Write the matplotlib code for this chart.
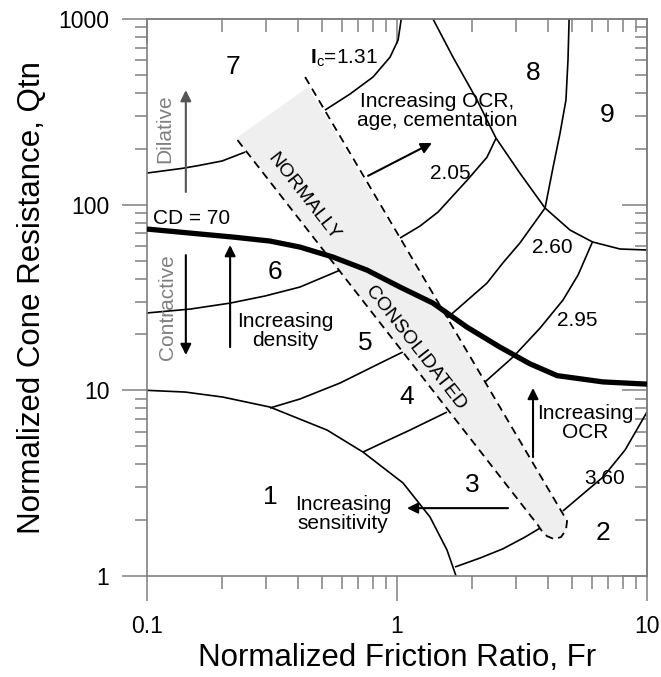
import matplotlib.pyplot as plt
from matplotlib.ticker import FuncFormatter, NullFormatter

plt.rcParams['font.family'] = ['Liberation Sans', 'DejaVu Sans']
plt.rcParams['mathtext.fontset'] = 'custom'
plt.rcParams['mathtext.rm'] = 'Liberation Sans'
plt.rcParams['mathtext.bf'] = 'Liberation Sans:bold'

# soil behaviour type boundaries, (Fr %, Qtn) pairs
ic131_lo_fr = [0.1, 0.139, 0.163, 0.2, 0.247]
ic131_lo_qt = [148, 157, 163, 172, 192]
ic131_hi_fr = [0.515, 0.648, 0.802, 0.938, 1.01, 1.04]
ic131_hi_qt = [323, 394, 487, 623, 770, 1000]

ic205_lo_fr = [0.1, 0.149, 0.215, 0.296, 0.409, 0.592]
ic205_lo_qt = [26.1, 27.4, 29.5, 32.2, 36.0, 44.4]
ic205_hi_fr = [1.028, 1.236, 1.459, 1.923, 2.29, 2.49]
ic205_hi_qt = [66.1, 76.7, 91.2, 137, 180, 228]

ic260_lo_fr = [0.310, 0.409, 0.592, 0.855, 1.057]
ic260_lo_qt = [8.03, 8.98, 10.95, 14.0, 16.1]
ic260_hi_fr = [1.585, 2.29, 2.65, 3.10, 3.91, 4.21, 4.49, 4.74, 4.83, 4.88]
ic260_hi_qt = [24.5, 37.8, 48.5, 62.1, 95.9, 159, 243, 366, 601, 1000]

ic295_lo_fr = [0.731, 0.855, 1.127, 1.585]
ic295_lo_qt = [4.65, 5.14, 6.11, 7.64]
ic295_hi_fr = [2.25, 2.91, 3.73, 4.61, 5.30, 6.05]
ic295_hi_qt = [11.1, 15.1, 21.6, 30.6, 41.8, 63.0]

ic360_lo_fr = [1.706, 2.15, 2.65, 3.25, 3.73]
ic360_lo_qt = [1.118, 1.25, 1.40, 1.62, 1.81]
ic360_hi_fr = [4.61, 5.92, 6.67, 8.17, 10]
ic360_hi_qt = [2.24, 2.98, 3.41, 4.77, 7.64]

zone1_fr = [0.1, 0.142, 0.201, 0.310, 0.525, 0.731, 1.057, 1.355, 1.585, 1.722]
zone1_qt = [10.0, 9.79, 9.20, 8.13, 6.11, 4.65, 3.17, 2.08, 1.38, 1.0]

zone8_fr = [1.393, 1.675, 2.09, 2.49, 3.10, 3.91, 4.92, 6.05, 7.80, 10]
zone8_qt = [1000, 623, 366, 228, 148, 95.9, 73.0, 63.0, 57.7, 57.0]

# contractive / dilative boundary
cd70_fr = [0.1, 0.163, 0.221, 0.310, 0.409, 0.555, 0.759, 1.028, 1.393,
           1.905, 2.58, 3.40, 4.37, 6.67, 10]
cd70_qt = [73.9, 69.5, 66.9, 63.7, 59.1, 52.2, 44.4, 36.0, 29.5,
           21.9, 17.1, 13.9, 12.0, 11.1, 10.8]

# normally consolidated band (right edge, rounded tip, left edge)
nc_fr = [0.429, 4.79, 4.74, 4.53, 4.25, 3.98, 3.77, 3.66, 0.227]
nc_qt = [487, 1.98, 1.77, 1.62, 1.58, 1.64, 1.77, 1.88, 228]
nc_top_fr = [0.227, 0.441]
nc_top_qt = [228, 430]

zone_labels = ['1', '2', '3', '4', '5', '6', '7', '8', '9']
zone_fr = [0.310, 6.67, 2.0, 1.096, 0.745, 0.325, 0.221, 3.50, 6.92]
zone_qt = [2.66, 1.70, 3.09, 9.2, 18.0, 43.4, 551, 511, 304]

ic_labels = ['2.05', '2.60', '2.95', '3.60']
ic_fr = [1.63, 4.17, 5.25, 6.79]
ic_qt = [148, 59.1, 23.9, 3.37]

grey = '#808080'

fig = plt.figure(figsize=(6.61, 6.77), dpi=100)
ax = fig.add_axes([147 / 661, 101 / 677, 500 / 661, 557 / 677])
ax.set_xscale('log')
ax.set_yscale('log')
ax.set_xlim(0.1, 10)
ax.set_ylim(1, 1000)

thin = dict(color='black', lw=1.2, zorder=2, solid_capstyle='butt')
for fr, qt in [(ic131_lo_fr, ic131_lo_qt), (ic131_hi_fr, ic131_hi_qt),
               (ic205_lo_fr, ic205_lo_qt), (ic205_hi_fr, ic205_hi_qt),
               (ic260_lo_fr, ic260_lo_qt), (ic260_hi_fr, ic260_hi_qt),
               (ic295_lo_fr, ic295_lo_qt), (ic295_hi_fr, ic295_hi_qt),
               (ic360_lo_fr, ic360_lo_qt), (ic360_hi_fr, ic360_hi_qt),
               (zone1_fr, zone1_qt), (zone8_fr, zone8_qt)]:
    ax.plot(fr, qt, **thin)

# NC band
ax.fill(nc_top_fr + nc_fr[1:-1] + nc_fr[-1:], nc_top_qt + nc_qt[1:-1] + nc_qt[-1:],
        color='#efefef', lw=0, zorder=3)
ax.plot(nc_fr, nc_qt, color='black', lw=1.3, ls=(0, (4.5, 3)), zorder=4)

ax.plot(cd70_fr, cd70_qt, color='black', lw=3.8, zorder=5, solid_capstyle='butt')

for lab, x, y in zip(zone_labels, zone_fr, zone_qt):
    ax.text(x, y, lab, fontsize=19, ha='center', va='center', zorder=6)
for lab, x, y in zip(ic_labels, ic_fr, ic_qt):
    ax.text(x, y, lab, fontsize=15, ha='center', va='center', zorder=6)

ax.text(0.449, 615, r'$\mathbf{I}_{\mathrm{c}}$=1.31', fontsize=15,
        ha='left', va='center', zorder=6)
ax.text(0.1057, 84.7, 'CD = 70', fontsize=15, ha='left', va='center', zorder=6)
ax.text(1.445, 319, 'Increasing OCR,\nage, cementation', fontsize=15,
        ha='center', va='center', linespacing=1.0, zorder=6)
ax.text(0.356, 20.9, 'Increasing\ndensity', fontsize=15, ha='center',
        va='center', linespacing=1.0, zorder=6)
ax.text(0.608, 2.16, 'Increasing\nsensitivity', fontsize=15, ha='center',
        va='center', linespacing=1.0, zorder=6)
ax.text(5.65, 6.67, 'Increasing\nOCR', fontsize=15, ha='center',
        va='center', linespacing=1.0, zorder=6)
ax.text(0.118, 258, 'Dilative', fontsize=15, color=grey, rotation=90,
        ha='center', va='center', zorder=6)
ax.text(0.121, 28.1, 'Contractive', fontsize=15, color=grey, rotation=90,
        ha='center', va='center', zorder=6)
ax.text(0.421, 110, 'NORMALLY', fontsize=14, rotation=-52,
        rotation_mode='anchor', ha='center', va='center', zorder=6)
ax.text(1.18, 16.9, 'CONSOLIDATED', fontsize=14, rotation=-52,
        rotation_mode='anchor', ha='center', va='center', zorder=6)


def arrow(x0, y0, x1, y1, color='black'):
    ax.annotate('', xy=(x1, y1), xytext=(x0, y0), zorder=6,
                arrowprops=dict(arrowstyle='-|>', color=color, lw=1.5,
                                mutation_scale=16, shrinkA=0, shrinkB=0))


arrow(0.766, 143, 1.38, 215)
arrow(0.215, 17.1, 0.215, 60.6)
arrow(0.143, 117, 0.143, 414, color='#555555')
arrow(0.143, 53.5, 0.143, 15.5)
arrow(2.78, 2.32, 1.096, 2.32)
arrow(3.50, 4.37, 3.50, 10.3)

# axes styling: ticks out on bottom/left, in on top/right
fmt = FuncFormatter(lambda v, p: f'{v:g}')
ax.xaxis.set_major_formatter(fmt)
ax.yaxis.set_major_formatter(fmt)
ax.xaxis.set_minor_formatter(NullFormatter())
ax.yaxis.set_minor_formatter(NullFormatter())
ax.tick_params(which='both', direction='out', color=grey, width=1.1,
               labelsize=16.5)
ax.tick_params(which='major', length=18)
ax.tick_params(which='minor', length=9)
ax.tick_params(axis='x', pad=10)
ax.tick_params(axis='y', pad=9)
for sp in ax.spines.values():
    sp.set_color(grey)
    sp.set_linewidth(1.2)

top = ax.secondary_xaxis('top')
right = ax.secondary_yaxis('right')
for sec, axis in [(top, top.xaxis), (right, right.yaxis)]:
    sec.tick_params(which='both', direction='in', color=grey, width=1.1)
    sec.tick_params(which='major', length=18)
    sec.tick_params(which='minor', length=9)
    axis.set_major_formatter(NullFormatter())
    axis.set_minor_formatter(NullFormatter())
    for sp in sec.spines.values():
        sp.set_color(grey)
        sp.set_linewidth(1.2)

ax.set_xlabel('Normalized Friction Ratio, Fr', fontsize=22.5, labelpad=4)
ax.set_ylabel('Normalized Cone Resistance, Qtn', fontsize=22.5, labelpad=8)

fig.savefig('out.png', dpi=100)
